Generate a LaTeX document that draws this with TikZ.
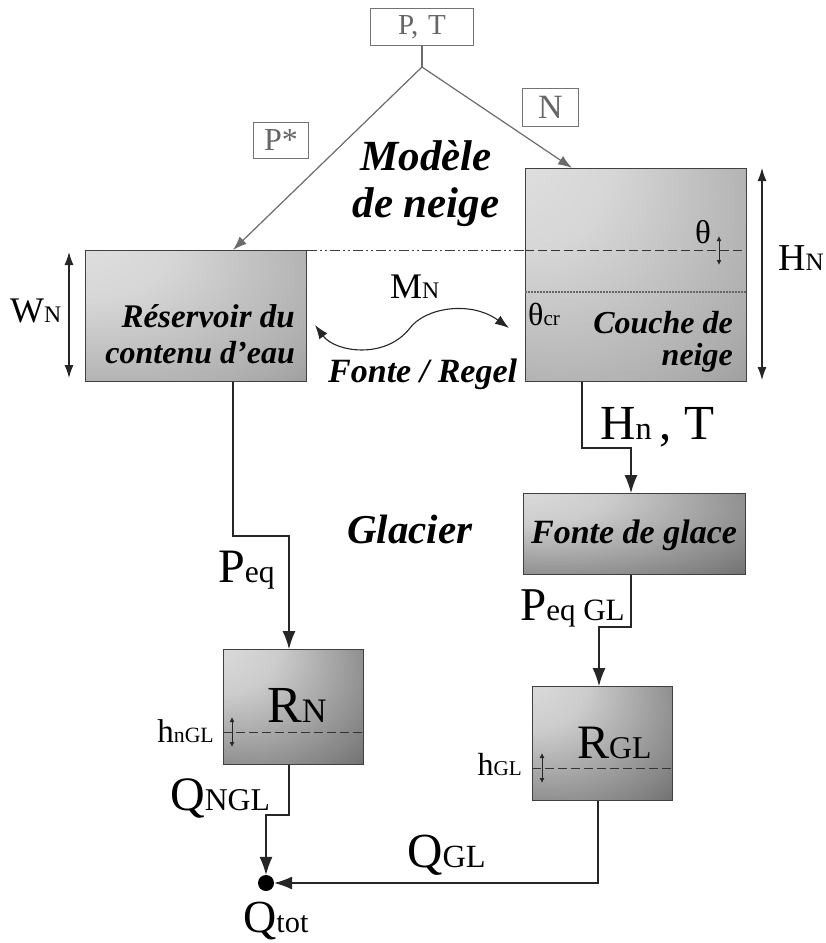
\documentclass[tikz,border=0pt]{standalone}
\usepackage{fontspec}
\setmainfont{Liberation Serif}
\usepackage{graphicx}
\usetikzlibrary{arrows.meta,calc}

\newcommand\fs[1]{\fontsize{#1}{#1}\selectfont}
\newcommand\subx[1]{\scalebox{0.66}{#1}}

\pgfdeclareradialshading{shLight}{\pgfpoint{-35bp}{35bp}}{color(0bp)=(black!11); color(20bp)=(black!16); color(45bp)=(black!32); color(75bp)=(black!60)}
\pgfdeclareradialshading{shDark}{\pgfpoint{-35bp}{35bp}}{color(0bp)=(black!11); color(20bp)=(black!20); color(45bp)=(black!48); color(75bp)=(black!85)}

\begin{document}
\begin{tikzpicture}[x=1pt,y=-1pt,
  lbox/.style={draw=black!75, line width=1.1pt, inner sep=0pt, anchor=north west, shading=shLight},
  dbox/.style={draw=black!75, line width=1.1pt, inner sep=0pt, anchor=north west, shading=shDark},
  gbox/.style={draw=black!55, text=black!60, line width=1pt, inner sep=0pt, anchor=north west},
  txt/.style={inner sep=0pt, text=black},
  bi/.style={txt, font=\bfseries\itshape},
  gline/.style={draw=black!58, line width=1.2pt},
  gflow/.style={gline, -{Latex[length=14pt,width=10pt]}},
  flow/.style={draw=black!85, line width=1.1pt, -{Latex[length=18pt,width=13pt]}},
  dimarrow/.style={draw=black!85, line width=1.1pt, {Latex[length=13pt,width=9pt]}-{Latex[length=13pt,width=9pt]}},
  sdim/.style={draw=black!85, line width=0.9pt, {Latex[length=5pt,width=5pt]}-{Latex[length=5pt,width=5pt]}},
  cflow/.style={draw=black!85, line width=1.1pt, {Latex[length=14pt,width=10pt]}-{Latex[length=14pt,width=10pt]}},
  dashline/.style={draw=black!80, line width=1pt, dash pattern=on 9pt off 4pt},
]
\useasboundingbox (0,0) rectangle (826,943);

% ---------- input boxes ----------
\node[gbox, minimum width=103pt, minimum height=37pt] (pt) at (370,8) {\fs{29}P,\,\,T};
\node[gbox, minimum width=56pt, minimum height=38pt] (nb) at (522,88) {\fs{34}N};
\node[gbox, minimum width=55pt, minimum height=36pt] (ps) at (253,122) {\fs{32}P*};

% ---------- main boxes ----------
\node[lbox, minimum width=221pt, minimum height=131pt] (res) at (85,250) {};
\node[lbox, minimum width=221pt, minimum height=213pt] (snow) at (525,168) {};
\node[dbox, minimum width=222pt, minimum height=81pt] (fonte) at (523,493) {};
\node[dbox, minimum width=140pt, minimum height=115pt] (rn) at (223,649) {};
\node[dbox, minimum width=140pt, minimum height=114pt] (rgl) at (532,686) {};
\node[circle, fill=black, minimum size=16pt, inner sep=0pt] (dot) at (266,883) {};

% ---------- top distribution ----------
\coordinate (j) at (422,67);
\coordinate (resin) at (233,250);
\coordinate (snowin) at (572,168);
\draw[gline] (pt.south) -- (j);
\draw[gflow] (j) -- (resin);
\draw[gflow] (j) -- (snowin);

% ---------- level lines ----------
\coordinate (lvl) at (525,250);
\coordinate (lvr) at (746,250);
\draw[draw=black!75, line width=1pt, dash pattern=on 10pt off 3pt on 2pt off 3pt on 2pt off 3pt] (res.north east) -- (lvl);
\draw[dashline] (lvl) -- (lvr);
\coordinate (crl) at (525,292);
\coordinate (crr) at (746,292);
\draw[draw=black!60, line width=1.2pt, dash pattern=on 1.5pt off 1.5pt] (crl) -- (crr);

% ---------- dimension arrows ----------
\coordinate (wt) at (69,252); \coordinate (wb) at (69,378);
\draw[dimarrow] (wt) -- (wb);
\coordinate (ht) at (762,168); \coordinate (hb) at (762,380);
\draw[dimarrow] (ht) -- (hb);
\coordinate (tht) at (719,236); \coordinate (thb) at (719,265);
\draw[sdim] (tht) -- (thb);

% ---------- melt / refreeze exchange ----------
\coordinate (m1) at (315,325);
\coordinate (mj) at (410,328);
\coordinate (m2) at (509,328);
\draw[cflow] (m1) .. controls (335,352) and (385,360) .. (mj) .. controls (425,308) and (470,300) .. (m2);

% ---------- flows ----------
\coordinate (b1) at (233,536); \coordinate (b2) at (289,536);
\draw[flow] (res.south -| b1) -- (b1) -- (b2) -- (rn.north -| b2);
\coordinate (b3) at (582,448); \coordinate (b4) at (631,448);
\draw[flow] (snow.south -| b3) -- (b3) -- (b4) -- (fonte.north -| b4);
\coordinate (b5) at (631,627); \coordinate (b6) at (599,627);
\draw[flow] (fonte.south -| b5) -- (b5) -- (b6) -- (rgl.north -| b6);
\coordinate (b7) at (289,815); \coordinate (b8) at (266,815);
\draw[flow] (rn.south -| b7) -- (b7) -- (b8) -- (dot);
\coordinate (b9) at (598,883);
\draw[flow] (rgl.south -| b9) -- (b9) -- (dot);

% ---------- levels in reservoirs ----------
\coordinate (rnl) at (223,732); \coordinate (rnr) at (363,732);
\draw[dashline] (rnl) -- (rnr);
\coordinate (rna) at (232,717); \coordinate (rnb) at (232,747);
\draw[sdim] (rna) -- (rnb);
\coordinate (rgll) at (532,768); \coordinate (rglr) at (672,768);
\draw[dashline] (rgll) -- (rglr);
\coordinate (rgla) at (542,753); \coordinate (rglb) at (542,783);
\draw[sdim] (rgla) -- (rglb);

% ---------- texts ----------
\node[bi, font=\bfseries\itshape\fs{43}, anchor=base] (mod1) at (426,170) {Modèle};
\node[bi, font=\bfseries\itshape\fs{43}, anchor=base] (mod2) at (426,217) {de neige};
\node[bi, font=\bfseries\itshape\fs{33}, anchor=base east] (res1) at (295,327) {Réservoir du};
\node[bi, font=\bfseries\itshape\fs{32}, anchor=base east] (res2) at (295,363) {contenu d’eau};
\node[bi, font=\bfseries\itshape\fs{32}, anchor=base east] (cou1) at (733,333) {Couche de};
\node[bi, font=\bfseries\itshape\fs{32}, anchor=base east] (cou2) at (733,365) {neige};
\node[bi, font=\bfseries\itshape\fs{34}, anchor=base west] (fr) at (328,382) {Fonte / Regel};
\node[bi, font=\bfseries\itshape\fs{41}, anchor=base west] (gla) at (347,543) {Glacier};
\node[bi, font=\bfseries\itshape\fs{34}, anchor=base] (fg) at (634,543) {Fonte de glace};

\node[txt, font=\fs{36}, anchor=base west] (wn) at (10,322) {W\subx{N}};
\node[txt, font=\fs{38}, anchor=base west] (hn) at (778,270) {H\subx{N}};
\node[txt, font=\fs{36}, anchor=base west] (mn) at (390,298) {M\subx{N}};
\node[txt, font=\fs{33}, anchor=base] (th) at (703,243) {θ};
\node[txt, font=\fs{32}, anchor=base west] (thcr) at (528,325) {θ\subx{cr}};
\node[txt, font=\fs{49}, anchor=base west] (hnt) at (600,439) {H\subx{n}\,, T};
\node[txt, font=\fs{48}, anchor=base west] (peq) at (218,582) {P\subx{eq}};
\node[txt, font=\fs{47}, anchor=base west] (peqgl) at (520,620) {P\subx{eq GL}};
\node[txt, font=\fs{52}, anchor=base west] (rnt) at (267,722) {R\subx{N}};
\node[txt, font=\fs{48}, anchor=base west] (rglt) at (577,758) {R\subx{GL}};
\node[txt, font=\fs{33}, anchor=base east] (hngl) at (214,742) {h\subx{nGL}};
\node[txt, font=\fs{32}, anchor=base east] (hgl) at (522,775) {h\subx{GL}};
\node[txt, font=\fs{48}, anchor=base west] (qngl) at (170,810) {Q\subx{NGL}};
\node[txt, font=\fs{49}, anchor=base west] (qgl) at (407,867) {Q\subx{GL}};
\node[txt, font=\fs{46}, anchor=base west] (qtot) at (243,932) {Q\subx{tot}};
\end{tikzpicture}
\end{document}
